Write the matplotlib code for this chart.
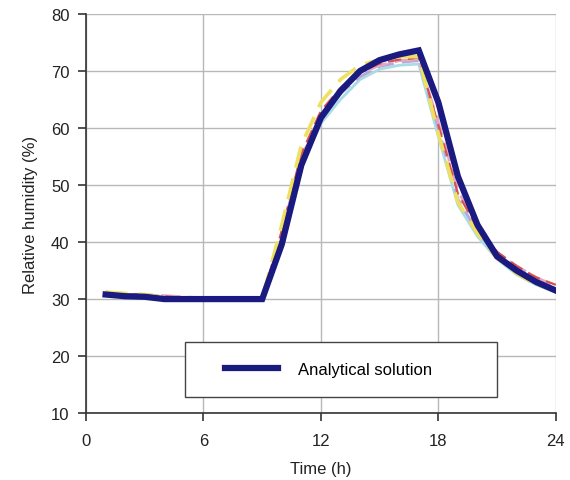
import matplotlib
matplotlib.use("Agg")
import matplotlib.pyplot as plt
from matplotlib.legend_handler import HandlerLine2D

plt.rcParams["font.family"] = ["Liberation Sans", "DejaVu Sans"]

hours = [1, 2, 3, 4, 5, 6, 7, 8, 9, 10, 11, 12, 13, 14, 15, 16, 17, 18, 19, 20, 21, 22, 23, 24]

# analytical solution
analytical = [30.8, 30.5, 30.4, 30.0, 30.0, 30.0, 30.0, 30.0, 30.0, 39.6, 53.5, 61.8,
              66.5, 70.0, 71.9, 72.9, 73.6, 64.5, 51.5, 43.0, 37.5, 35.0, 33.0, 31.5]

# numerical runs
run_yellow = [31.2, 31.0, 30.8, 30.3, 30.0, 30.0, 30.0, 30.0, 30.0, 43.0, 57.0, 64.5,
              68.5, 71.0, 72.0, 72.5, 72.5, 59.0, 47.0, 41.5, 37.2, 34.5, 32.5, 31.5]
run_red = [31.3, 30.8, 30.8, 30.5, 30.2, 30.0, 30.0, 30.0, 30.0, 42.0, 55.5, 63.0,
           67.0, 69.8, 71.3, 72.0, 72.3, 60.5, 48.5, 42.5, 38.3, 35.8, 33.8, 32.5]
run_pink = [31.0, 30.9, 30.8, 30.6, 30.4, 30.2, 30.0, 30.0, 30.0, 41.0, 54.5, 62.5,
            66.5, 69.5, 71.0, 71.8, 72.0, 61.0, 49.0, 42.5, 38.0, 35.8, 33.8, 32.3]
run_cyan = [30.9, 30.6, 30.5, 30.2, 30.0, 30.0, 30.0, 30.0, 30.0, 40.5, 53.5, 60.8,
            65.0, 68.5, 70.3, 71.0, 71.2, 58.5, 46.5, 41.0, 37.0, 34.3, 32.5, 31.2]
run_violet = [31.0, 30.7, 30.6, 30.3, 30.1, 30.0, 30.0, 30.0, 30.0, 41.5, 55.0, 62.0,
              66.0, 69.0, 70.8, 71.5, 71.8, 60.0, 47.5, 41.8, 37.6, 35.0, 33.0, 31.8]

x_ticks = [0, 6, 12, 18, 24]
y_ticks = [10, 20, 30, 40, 50, 60, 70, 80]


class PaddedLine(HandlerLine2D):
    # leave some blank room before the legend line
    def get_xdata(self, legend, xdescent, ydescent, width, height, fontsize):
        xdata, xmark = super().get_xdata(legend, xdescent, ydescent, width, height, fontsize)
        return [xdata[0] + 1.2 * fontsize, xdata[-1]], xmark


fig = plt.figure(figsize=(5.7, 4.81), dpi=100)
ax = fig.add_axes([0.151, 0.139, 0.824, 0.830])

ax.plot(hours, run_cyan, color="#a8dce6", lw=2.0, zorder=2)
ax.plot(hours, run_violet, color="#b8a8d8", lw=2.0, ls=(0, (6, 3)), zorder=2)
ax.plot(hours, run_pink, color="#e4a8c4", lw=2.0, ls=(0, (7, 3)), zorder=2)
ax.plot(hours, run_red, color="#d85050", lw=1.6, ls=(0, (6, 3)), zorder=3)
ax.plot(hours, run_yellow, color="#f0e060", lw=2.6, ls=(0, (6, 3)), zorder=3)
line, = ax.plot(hours, analytical, color="#1a1a80", lw=4.5, zorder=4,
                solid_joinstyle="miter", label="Analytical solution")

ax.set_xlim(0, 24)
ax.set_ylim(10, 80)
ax.set_xticks(x_ticks)
ax.set_yticks(y_ticks)
ax.grid(True, color="#b8b8b8", lw=1.0)
ax.set_axisbelow(True)
for side in ("top", "right"):
    ax.spines[side].set_visible(False)
for side in ("left", "bottom"):
    ax.spines[side].set_color("#333333")
    ax.spines[side].set_linewidth(1.2)
ax.tick_params(direction="out", length=6, width=1.2, color="#333333",
               labelsize=12, labelcolor="#222222")
ax.tick_params(axis="x", pad=8)
ax.tick_params(axis="y", pad=6)

ax.set_xlabel("Time (h)", fontsize=12, color="#222222", labelpad=10)
ax.set_ylabel("Relative humidity (%)", fontsize=12, color="#222222", labelpad=9)

leg = ax.legend(loc="lower left", bbox_to_anchor=(0.2106, 0.04, 0.664, 0.135),
                mode="expand", borderaxespad=0, fancybox=False, framealpha=1,
                edgecolor="#444444", fontsize=12, handlelength=4.4,
                handletextpad=1.2, borderpad=1.2,
                handler_map={line: PaddedLine()})
leg.get_frame().set_linewidth(1.0)

fig.savefig("out.png", dpi=100, facecolor="white")
